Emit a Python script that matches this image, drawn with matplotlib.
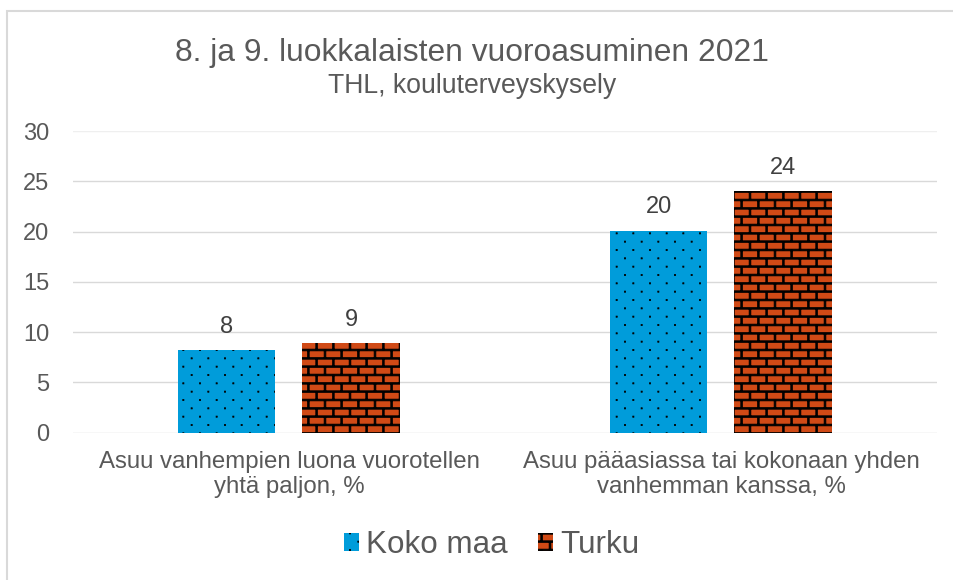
import numpy as np
import matplotlib
matplotlib.use('Agg')
import matplotlib.pyplot as plt
from matplotlib import hatch as mhatch
from matplotlib.path import Path
from matplotlib.patches import Rectangle

# data
categories = ['Asuu vanhempien luona vuorotellen\nyhtä paljon, %',
              'Asuu pääasiassa tai kokonaan yhden\nvanhemman kanssa, %']
series_names = ['Koko maa', 'Turku']
koko_maa = [8.2, 20.1]
turku = [8.9, 24.0]
yticks = [0, 5, 10, 15, 20, 25, 30]

title = '8. ja 9. luokkalaisten vuoroasuminen 2021'
subtitle = 'THL, kouluterveyskysely'

blue = '#009CDA'
orange = '#D04A16'
grey_text = '#595959'
grid_col = '#D9D9D9'


def square(cx, cy, hw, hh):
    # suljettu suorakulmio hatch-polkuun
    verts = [(cx - hw, cy - hh), (cx + hw, cy - hh), (cx + hw, cy + hh),
             (cx - hw, cy + hh), (cx - hw, cy - hh)]
    codes = [Path.MOVETO, Path.LINETO, Path.LINETO, Path.LINETO, Path.CLOSEPOLY]
    return verts, codes


class DotHatch(mhatch.HatchPatternBase):
    # pisterasteri, 6 pistettä rivillä, 12 riviä, joka toinen rivi siirretty
    def __init__(self, hatch, density):
        self.rects = []
        if '.' in hatch:
            for r in range(13):
                if r % 2 == 0:
                    xs = [c / 6 for c in range(7)]
                else:
                    xs = [(c + 0.5) / 6 for c in range(6)]
                for x in xs:
                    self.rects.append((x, r / 12, 0.006, 0.006))
        self.num_vertices = 5 * len(self.rects)

    def set_vertices_and_codes(self, vertices, codes):
        i = 0
        for rc in self.rects:
            v, c = square(*rc)
            vertices[i:i + 5] = v
            codes[i:i + 5] = c
            i += 5


class BrickHatch(mhatch.HatchPatternBase):
    # tiilikuvio: 12 tiiliriviä, 6 tiiltä rivillä
    def __init__(self, hatch, density):
        self.rects = []
        if '+' in hatch:
            t = 0.009
            for r in range(13):
                self.rects.append((0.5, r / 12, 0.55, t))
            for r in range(12):
                off = 0.0 if r % 2 == 0 else 1 / 12
                for c in range(7):
                    x = c / 6 + off
                    if x <= 1.0 + 1e-9:
                        self.rects.append((x, (r + 0.5) / 12, t, 1 / 24))
        self.num_vertices = 5 * len(self.rects)

    def set_vertices_and_codes(self, vertices, codes):
        i = 0
        for rc in self.rects:
            v, c = square(*rc)
            vertices[i:i + 5] = v
            codes[i:i + 5] = c
            i += 5


mhatch._hatch_types = [DotHatch, BrickHatch]

plt.rcParams['font.family'] = ['Liberation Sans', 'DejaVu Sans']
plt.rcParams['hatch.color'] = 'black'
plt.rcParams['hatch.linewidth'] = 0.5

fig = plt.figure(figsize=(9.54, 5.80), dpi=100)
ax = fig.add_axes([73 / 954, 1 - 432.7 / 580, 864 / 954, (432.7 - 131) / 580])

x = np.arange(len(categories))
w = 0.225
gap = 0.0625
b1 = ax.bar(x - (w + gap) / 2, koko_maa, w, color=blue, hatch='.', linewidth=0,
            label=series_names[0], zorder=3)
b2 = ax.bar(x + (w + gap) / 2, turku, w, color=orange, hatch='+', linewidth=0,
            label=series_names[1], zorder=3)

ax.bar_label(b1, fmt='{:.0f}', padding=9, fontsize=17, color='#404040')
ax.bar_label(b2, fmt='{:.0f}', padding=9, fontsize=17, color='#404040')

ax.set_xlim(-0.5, len(categories) - 0.5)
ax.set_ylim(0, 30)
ax.set_yticks(yticks)
ax.set_xticks(x)
ax.set_xticklabels(categories, fontsize=17.3, color=grey_text)
ax.tick_params(axis='y', length=0, pad=17, labelsize=17, labelcolor=grey_text)
ax.tick_params(axis='x', length=0, pad=13)
ax.grid(axis='y', color=grid_col, linewidth=1.0, zorder=0)
ax.yaxis.get_gridlines()[-1].set_color('#EFEFEF')
for s in ax.spines.values():
    s.set_visible(False)
ax.set_axisbelow(True)

fig.text(472 / 954, 1 - 61 / 580, title, ha='center', va='baseline',
         fontsize=22.9, color=grey_text)
fig.text(472 / 954, 1 - 93 / 580, subtitle, ha='center', va='baseline',
         fontsize=19.2, color=grey_text)

fig.legend(handles=[b1, b2], labels=series_names, loc='center',
           bbox_to_anchor=(491.5 / 954, 1 - 545 / 580), ncol=2, frameon=False,
           fontsize=22.6, labelcolor=grey_text, handlelength=0.5, handleheight=0.5,
           handletextpad=0.22, columnspacing=0.94)

# reunaviiva kaavion ympärille
fig.patches.append(Rectangle((7 / 954, -0.05), 1.2, 1 - 11 / 580 + 0.05,
                             transform=fig.transFigure, fill=False,
                             edgecolor=grid_col, linewidth=1.5))

fig.savefig('out.png', dpi=100)
